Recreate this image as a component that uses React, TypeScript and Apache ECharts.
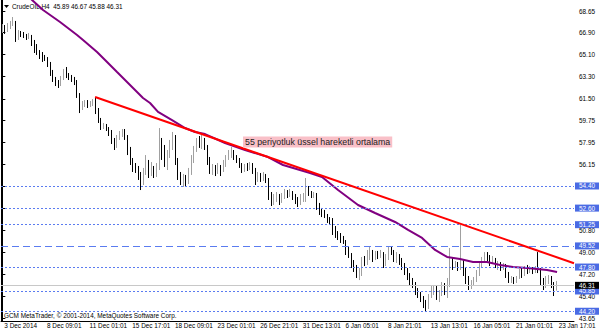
import React, { useEffect, useRef } from "react";
import * as echarts from "echarts";

// time axis labels (one every 16 H4 bars)
const timeLabels = [
  "3 Dec 2014", "8 Dec 09:01", "11 Dec 01:01", "15 Dec 17:01", "18 Dec 09:01",
  "23 Dec 01:01", "26 Dec 21:01", "31 Dec 13:01", "6 Jan 05:01", "8 Jan 21:01",
  "13 Jan 13:01", "16 Jan 05:01", "21 Jan 01:01", "23 Jan 17:01",
];
const BARS_PER_LABEL = 16;
const TOTAL_SLOTS = 215; // bars + empty shift on the right

// price axis tick labels
const priceTicks = [68.65, 66.9, 65.1, 63.3, 61.5, 59.75, 57.95, 56.15, 54.4, 52.6, 50.8, 49.0, 47.2, 45.4, 43.65];

// horizontal lines
const dottedLevels = [54.4, 52.6, 51.25, 47.8, 45.85, 44.2];
const dashedLevels = [49.52];
const bidLevel = 46.31;

// CrudeOIL H4 candles: [open, close, low, high]
const ohlc = [
  [67.10, 67.35, 66.86, 67.59], [67.35, 67.02, 66.78, 67.51], [67.02, 67.43, 66.94, 67.67], [67.43, 67.59, 67.18, 67.84],
  [67.59, 67.92, 67.43, 68.16], [67.92, 66.45, 66.13, 67.84], [66.45, 66.94, 66.29, 67.10], [66.94, 66.78, 66.53, 67.02],
  [66.78, 66.70, 66.45, 66.94], [66.70, 66.53, 66.29, 66.78], [66.53, 66.61, 66.37, 66.86], [66.61, 66.13, 65.80, 66.70],
  [66.13, 65.88, 65.23, 66.29], [65.88, 65.31, 65.07, 65.96], [65.31, 65.15, 64.74, 65.47], [65.15, 64.99, 64.50, 65.31],
  [64.99, 64.82, 64.58, 65.07], [64.82, 64.33, 64.09, 64.90], [64.33, 63.68, 63.36, 64.50], [63.68, 63.19, 62.87, 63.85],
  [63.19, 62.79, 62.54, 63.28], [62.79, 62.62, 62.38, 63.03], [62.62, 63.19, 62.54, 63.36], [63.19, 63.68, 63.03, 63.93],
  [63.68, 63.44, 63.19, 64.09], [63.44, 63.28, 63.03, 63.60], [63.28, 63.11, 62.87, 63.44], [63.11, 62.87, 62.62, 63.28],
  [62.87, 61.81, 61.57, 63.03], [61.81, 60.75, 60.34, 61.97], [60.75, 61.08, 60.59, 61.32], [61.08, 61.24, 60.83, 61.40],
  [61.24, 61.00, 60.75, 61.40], [61.00, 61.16, 60.83, 61.32], [61.16, 61.32, 60.91, 61.48], [61.32, 60.59, 60.26, 61.65],
  [60.59, 59.77, 59.53, 60.75], [59.77, 59.20, 58.96, 59.94], [59.20, 59.37, 59.04, 59.53], [59.37, 59.12, 58.88, 59.45],
  [59.12, 58.80, 58.47, 59.20], [58.80, 58.15, 57.82, 58.96], [58.15, 57.66, 57.33, 58.31], [57.66, 58.31, 57.50, 58.55],
  [58.31, 58.55, 58.15, 58.88], [58.55, 58.88, 58.39, 59.04], [58.88, 58.39, 58.15, 59.04], [58.39, 57.33, 56.92, 58.55],
  [57.33, 56.52, 56.11, 57.58], [56.52, 56.03, 55.54, 56.68], [56.03, 55.87, 55.46, 56.27], [55.87, 55.30, 54.89, 56.03],
  [55.30, 54.64, 54.07, 55.54], [54.64, 55.54, 54.48, 55.87], [55.54, 56.11, 55.30, 56.92], [56.11, 55.70, 55.05, 56.52],
  [55.70, 55.87, 55.21, 56.35], [55.87, 55.38, 55.05, 56.03], [55.38, 55.87, 55.13, 56.27], [55.87, 58.15, 55.70, 59.12],
  [58.15, 57.33, 56.52, 58.31], [57.33, 56.52, 55.95, 57.74], [56.52, 56.92, 55.70, 57.33], [56.92, 57.74, 56.68, 58.15],
  [57.74, 58.31, 57.33, 58.80], [58.31, 56.52, 56.11, 58.55], [56.52, 55.30, 54.89, 56.68], [55.30, 54.89, 54.48, 55.54],
  [54.89, 55.05, 54.32, 55.38], [55.05, 54.73, 54.40, 55.30], [54.73, 55.54, 54.56, 55.87], [55.54, 56.52, 55.30, 56.92],
  [56.52, 57.33, 56.27, 57.66], [57.33, 57.98, 57.17, 58.31], [57.98, 57.74, 57.50, 58.47], [57.74, 58.15, 57.41, 58.55],
  [58.15, 57.58, 57.33, 58.31], [57.58, 56.52, 56.11, 57.74], [56.52, 55.70, 55.38, 56.76], [55.70, 55.87, 55.30, 56.19],
  [55.87, 55.54, 55.21, 56.11], [55.54, 55.95, 55.38, 56.27], [55.95, 55.70, 55.21, 56.11], [55.70, 56.11, 55.54, 56.52],
  [56.11, 56.68, 55.95, 56.92], [56.68, 56.92, 56.52, 57.33], [56.92, 57.17, 56.68, 57.58], [57.17, 56.68, 56.52, 57.33],
  [56.68, 56.52, 56.27, 56.92], [56.52, 56.11, 55.87, 56.68], [56.11, 55.70, 55.46, 56.27], [55.70, 56.03, 55.54, 56.19],
  [56.03, 55.87, 55.62, 56.27], [55.87, 56.19, 55.70, 56.35], [56.19, 55.70, 55.38, 56.27], [55.70, 54.89, 54.48, 55.87],
  [54.89, 55.21, 54.73, 55.54], [55.21, 55.05, 54.73, 55.46], [55.05, 55.30, 54.81, 55.54], [55.30, 54.89, 54.64, 55.38],
  [54.89, 53.67, 53.26, 55.05], [53.67, 53.10, 52.77, 53.91], [53.10, 53.42, 52.85, 53.75], [53.42, 53.59, 53.10, 53.91],
  [53.59, 53.26, 52.85, 53.75], [53.26, 53.50, 53.02, 53.83], [53.50, 53.91, 53.34, 54.16], [53.91, 53.67, 53.42, 54.07],
  [53.67, 53.83, 53.50, 54.16], [53.83, 53.59, 53.26, 53.99], [53.59, 53.26, 52.93, 53.75], [53.26, 53.02, 52.69, 53.50],
  [53.02, 53.42, 52.85, 53.75], [53.42, 53.50, 53.10, 53.83], [53.50, 54.24, 53.10, 55.05], [54.24, 53.83, 53.59, 54.40],
  [53.83, 53.67, 53.42, 53.99], [53.67, 53.75, 53.42, 53.91], [53.75, 52.85, 52.45, 53.83], [52.85, 52.45, 52.04, 53.02],
  [52.45, 52.20, 51.87, 52.61], [52.20, 52.04, 51.79, 52.45], [52.04, 51.63, 51.39, 52.12], [51.63, 51.55, 51.30, 51.87],
  [51.55, 50.98, 50.41, 51.79], [50.98, 50.49, 50.17, 51.14], [50.49, 50.33, 50.00, 50.73], [50.33, 50.17, 49.76, 50.57],
  [50.17, 49.84, 49.68, 50.33], [49.84, 49.19, 48.78, 50.00], [49.19, 48.78, 48.54, 49.43], [48.78, 48.21, 47.72, 48.94],
  [48.21, 47.72, 47.40, 48.37], [47.72, 47.31, 46.91, 47.97], [47.31, 47.40, 46.74, 47.72], [47.40, 48.37, 47.07, 48.62],
  [48.37, 48.21, 47.88, 48.70], [48.21, 48.78, 47.97, 49.19], [48.78, 49.02, 48.37, 49.43], [49.02, 48.62, 48.21, 49.19],
  [48.62, 48.86, 48.37, 49.11], [48.86, 48.70, 48.45, 49.11], [48.70, 48.94, 48.54, 49.19], [48.94, 48.21, 47.72, 49.02],
  [48.21, 48.54, 47.88, 48.86], [48.54, 49.19, 48.37, 49.43], [49.19, 49.02, 48.78, 49.43], [49.02, 48.54, 48.21, 49.19],
  [48.54, 48.78, 48.13, 49.02], [48.78, 48.37, 47.97, 48.86], [48.37, 47.97, 47.56, 48.54], [47.97, 47.56, 47.15, 48.13],
  [47.56, 47.07, 46.74, 47.72], [47.07, 46.74, 46.26, 47.31], [46.74, 46.42, 46.09, 46.91], [46.42, 45.93, 45.52, 46.58],
  [45.93, 45.60, 45.28, 46.09], [45.60, 45.28, 44.95, 45.77], [45.28, 44.95, 44.46, 45.44], [44.95, 44.71, 44.14, 45.12],
  [44.71, 45.44, 44.38, 45.60], [45.44, 45.77, 45.28, 46.26], [45.77, 46.09, 45.52, 46.34], [46.09, 45.52, 45.12, 46.26],
  [45.52, 45.77, 44.95, 45.93], [45.77, 46.26, 45.44, 46.58], [46.26, 45.93, 45.52, 46.50], [45.93, 46.42, 45.28, 46.91],
  [46.42, 48.37, 46.17, 49.35], [48.37, 47.88, 47.56, 48.54], [47.88, 48.05, 47.72, 48.29], [48.05, 47.72, 47.48, 48.21],
  [47.72, 48.21, 47.56, 51.22], [48.21, 47.56, 47.07, 48.37], [47.56, 46.91, 46.42, 47.72], [46.91, 46.26, 45.93, 47.07],
  [46.26, 46.50, 46.01, 46.74], [46.50, 46.74, 46.26, 46.99], [46.74, 47.23, 46.58, 47.56], [47.23, 47.88, 47.07, 48.13],
  [47.88, 48.37, 47.72, 48.62], [48.37, 48.78, 48.21, 49.02], [48.78, 48.54, 48.29, 49.02], [48.54, 48.21, 47.88, 48.78],
  [48.21, 48.37, 48.05, 48.70], [48.37, 47.97, 47.72, 48.54], [47.97, 48.05, 47.56, 48.29], [48.05, 47.72, 47.48, 48.21],
  [47.72, 47.88, 47.56, 48.13], [47.88, 47.23, 46.91, 48.05], [47.23, 46.74, 46.50, 47.40], [46.74, 46.83, 46.50, 47.07],
  [46.83, 46.66, 46.42, 46.99], [46.66, 46.91, 46.50, 47.07], [46.91, 47.40, 46.83, 47.64], [47.40, 47.23, 46.91, 47.72],
  [47.23, 47.64, 47.07, 47.88], [47.64, 47.56, 47.23, 47.97], [47.56, 47.72, 47.31, 47.88], [47.72, 47.48, 47.23, 47.80],
  [47.48, 47.64, 47.31, 47.88], [47.64, 47.56, 47.31, 49.02], [47.56, 46.58, 46.26, 47.72], [46.58, 46.17, 45.93, 46.91],
  [46.17, 46.74, 46.09, 47.07], [46.74, 46.91, 46.42, 47.15], [46.91, 46.42, 46.09, 47.07], [46.42, 45.93, 45.44, 46.58],
  [45.89, 46.31, 45.88, 46.67],
];

// 55-period EMA: [bar index, price]
const emaPoints = [
  [7.0, 70.36], [11.14, 69.55], [15.27, 68.73], [21.65, 67.75], [28.03, 66.7], [30.28, 66.29], [35.53, 65.31],
  [38.54, 64.66], [43.04, 63.68], [49.04, 62.38], [52.79, 61.57], [55.42, 61.16], [58.42, 60.43], [63.68, 59.77],
  [68.56, 59.12], [72.31, 58.8], [76.06, 58.63], [83.56, 57.9], [91.07, 57.33], [99.7, 56.76], [105.33, 56.11],
  [115.46, 55.46], [119.96, 55.13], [125.97, 54.07], [133.47, 52.85], [139.85, 52.2], [147.36, 51.47],
  [152.23, 50.82], [157.49, 50.17], [162.37, 49.19], [166.87, 48.62], [171.74, 48.45], [176.62, 48.21],
  [181.87, 48.21], [186.75, 47.97], [191.63, 47.8], [196.88, 47.72], [204.39, 47.56], [208.14, 47.4],
];

// red trend line: [bar index, price]
const trendPoints = [[34.8, 61.65], [214.5, 48.11]];

const titleText = "CrudeOIL,H4  45.89 46.67 45.88 46.31";
const footerText = "GCM MetaTrader, \u00a9 2001-2014, MetaQuotes Software Corp.";
const noteText = "55 periyotluk \u00fcssel hareketli ortalama";

const Y_MIN = 43.406;
const Y_MAX = 69.546;
const FONT = "Liberation Sans, Arial, sans-serif";
const FS = 6.4;
const BLUE = "#4a6be4";

export default function App() {
  const ref = useRef<HTMLDivElement>(null);
  useEffect(() => {
    if (!ref.current) return;
    const chart = echarts.init(ref.current, null, { renderer: "svg" });
    const categories = Array.from({ length: TOTAL_SLOTS }, (_, i) =>
      i % BARS_PER_LABEL === 0 && i / BARS_PER_LABEL < timeLabels.length ? timeLabels[i / BARS_PER_LABEL] : ""
    );
    const hl = (v: number, type: any, color: string, bg: string) => ({
      yAxis: v,
      lineStyle: { color, type, width: 1 },
      label: {
        show: true,
        position: "end",
        formatter: v.toFixed(2),
        color: "#fff",
        backgroundColor: bg,
        padding: [1, 4, 0, 4],
        fontSize: FS,
        fontFamily: FONT,
        distance: 1,
      },
    });
    const hlineData = [
      ...dottedLevels.map((v) => hl(v, [2, 2], "#5b7cf0", BLUE)),
      ...dashedLevels.map((v) => hl(v, [7, 4], "#5b7cf0", BLUE)),
      hl(bidLevel, "solid", "#c8c8c8", "#000"),
    ];
    const labelValues = priceTicks.filter((v) => !dottedLevels.includes(v));
    chart.setOption({
      animation: false,
      backgroundColor: "#fff",
      grid: { left: 1, right: 26, top: 0, bottom: 12 },
      xAxis: [
        {
          type: "category",
          data: categories,
          boundaryGap: true,
          axisLine: { lineStyle: { color: "#000", width: 1 } },
          axisTick: {
            alignWithLabel: true,
            length: 3,
            interval: (i: number, v: string) => v !== "",
            lineStyle: { color: "#000" },
          },
          axisLabel: {
            interval: (i: number, v: string) => v !== "",
            align: "left",
            margin: 1,
            padding: [0, 0, 0, 2],
            fontSize: FS,
            fontFamily: FONT,
            color: "#000",
          },
          splitLine: { show: false },
        },
        { type: "value", min: -0.5, max: TOTAL_SLOTS - 0.5, show: false },
      ],
      yAxis: [
        {
          type: "value",
          position: "right",
          min: Y_MIN,
          max: Y_MAX,
          axisLine: { show: true, lineStyle: { color: "#000" } },
          axisTick: { show: true, length: 3, customValues: priceTicks, lineStyle: { color: "#000" } },
          axisLabel: {
            customValues: labelValues,
            formatter: (v: number) => v.toFixed(2),
            fontSize: FS,
            fontFamily: FONT,
            color: "#000",
            margin: 5,
          },
          splitLine: { show: false },
        },
        {
          type: "value",
          position: "left",
          min: Y_MIN,
          max: Y_MAX,
          axisLine: { show: true, lineStyle: { color: "#000" } },
          axisTick: { show: false },
          axisLabel: { show: false },
          splitLine: { show: false },
        },
      ],
      series: [
        {
          type: "candlestick",
          data: ohlc,
          barWidth: 1.2,
          itemStyle: {
            color: "#a0a0a0",
            color0: "#000",
            borderColor: "#a0a0a0",
            borderColor0: "#000",
            borderWidth: 1,
          },
          markLine: { symbol: ["none", "none"], silent: true, data: hlineData },
          z: 3,
        },
        {
          type: "line",
          xAxisIndex: 1,
          data: emaPoints,
          showSymbol: false,
          lineStyle: { color: "#800080", width: 2 },
          z: 4,
        },
        {
          type: "line",
          xAxisIndex: 1,
          data: trendPoints,
          showSymbol: false,
          lineStyle: { color: "#ff0000", width: 2 },
          z: 5,
        },
      ],
      graphic: [
        { type: "polygon", shape: { points: [[4, 5], [9, 5], [6.5, 8]] }, style: { fill: "#000" } },
        { type: "text", x: 12, y: 6.5, style: { text: titleText, fontSize: FS, fontFamily: FONT, fill: "#000", verticalAlign: "middle" } },
        { type: "text", x: 4, y: 315, style: { text: footerText, fontSize: FS, fontFamily: FONT, fill: "#000", verticalAlign: "middle" } },
        {
          type: "text",
          x: 243,
          y: 136.5,
          z: 10,
          style: {
            text: noteText,
            fontSize: 8.8,
            fontFamily: FONT,
            fill: "#222",
            backgroundColor: "#f9c0c8",
            padding: [1, 2, 1, 2],
            verticalAlign: "top",
          },
        },
      ],
    });
    return () => chart.dispose();
  }, []);
  return <div ref={ref} style={{ position: "fixed", left: 0, top: 0, width: 600, height: 333 }} />;
}
